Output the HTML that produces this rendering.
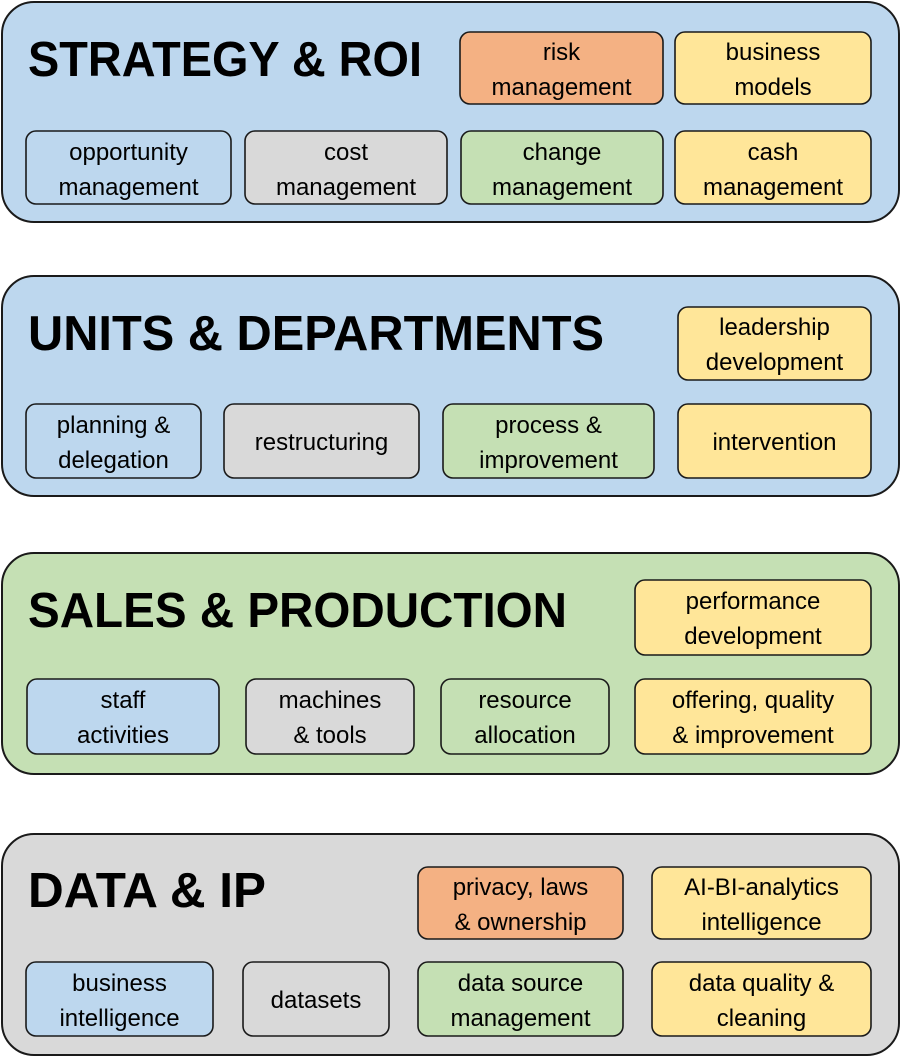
<!DOCTYPE html>
<html><head><meta charset="utf-8"><style>
html,body{margin:0;padding:0;background:#fff;}
svg{display:block;}
.t{font-family:"Liberation Sans",sans-serif;font-weight:bold;font-size:49px;fill:#000;}
.b{font-family:"Liberation Sans",sans-serif;font-size:24px;fill:#000;text-anchor:middle;}
.p{stroke:#1a1a1a;stroke-width:2;}
.x{stroke:#1a1a1a;stroke-width:1.6;}
</style></head><body>
<svg width="902" height="1057" viewBox="0 0 902 1057" xmlns="http://www.w3.org/2000/svg">
<rect class="p" x="2" y="2" width="897" height="220" rx="32" fill="#BDD7EE"/>
<text class="t" x="28" y="76" textLength="394" lengthAdjust="spacingAndGlyphs">STRATEGY &amp; ROI</text>
<rect class="x" x="460" y="32" width="203" height="72" rx="10" fill="#F4B183"/>
<text class="b" x="561.5" y="60">risk</text><text class="b" x="561.5" y="95">management</text>
<rect class="x" x="675" y="32" width="196" height="72" rx="10" fill="#FFE699"/>
<text class="b" x="773" y="60">business</text><text class="b" x="773" y="95">models</text>
<rect class="x" x="26" y="131" width="205" height="73" rx="10" fill="#BDD7EE"/>
<text class="b" x="128.5" y="160">opportunity</text><text class="b" x="128.5" y="195">management</text>
<rect class="x" x="245" y="131" width="202" height="73" rx="10" fill="#D9D9D9"/>
<text class="b" x="346" y="160">cost</text><text class="b" x="346" y="195">management</text>
<rect class="x" x="461" y="131" width="202" height="73" rx="10" fill="#C5E0B4"/>
<text class="b" x="562" y="160">change</text><text class="b" x="562" y="195">management</text>
<rect class="x" x="675" y="131" width="196" height="73" rx="10" fill="#FFE699"/>
<text class="b" x="773" y="160">cash</text><text class="b" x="773" y="195">management</text>

<rect class="p" x="2" y="276" width="897" height="220" rx="32" fill="#BDD7EE"/>
<text class="t" x="28" y="350" textLength="576" lengthAdjust="spacingAndGlyphs">UNITS &amp; DEPARTMENTS</text>
<rect class="x" x="678" y="307" width="193" height="73" rx="10" fill="#FFE699"/>
<text class="b" x="774.5" y="335">leadership</text><text class="b" x="774.5" y="370">development</text>
<rect class="x" x="26" y="404" width="175" height="74" rx="10" fill="#BDD7EE"/>
<text class="b" x="113.5" y="433">planning &amp;</text><text class="b" x="113.5" y="468">delegation</text>
<rect class="x" x="224" y="404" width="195" height="74" rx="10" fill="#D9D9D9"/>
<text class="b" x="321.5" y="450">restructuring</text>
<rect class="x" x="443" y="404" width="211" height="74" rx="10" fill="#C5E0B4"/>
<text class="b" x="548.5" y="433">process &amp;</text><text class="b" x="548.5" y="468">improvement</text>
<rect class="x" x="678" y="404" width="193" height="74" rx="10" fill="#FFE699"/>
<text class="b" x="774.5" y="450">intervention</text>

<rect class="p" x="2" y="553" width="897" height="221" rx="32" fill="#C5E0B4"/>
<text class="t" x="28" y="627" textLength="539" lengthAdjust="spacingAndGlyphs">SALES &amp; PRODUCTION</text>
<rect class="x" x="635" y="580" width="236" height="75" rx="10" fill="#FFE699"/>
<text class="b" x="753" y="609">performance</text><text class="b" x="753" y="644">development</text>
<rect class="x" x="27" y="679" width="192" height="75" rx="10" fill="#BDD7EE"/>
<text class="b" x="123" y="708">staff</text><text class="b" x="123" y="743">activities</text>
<rect class="x" x="246" y="679" width="168" height="75" rx="10" fill="#D9D9D9"/>
<text class="b" x="330" y="708">machines</text><text class="b" x="330" y="743">&amp; tools</text>
<rect class="x" x="441" y="679" width="168" height="75" rx="10" fill="#C5E0B4"/>
<text class="b" x="525" y="708">resource</text><text class="b" x="525" y="743">allocation</text>
<rect class="x" x="635" y="679" width="236" height="75" rx="10" fill="#FFE699"/>
<text class="b" x="753" y="708">offering, quality</text><text class="b" x="753" y="743">&amp; improvement</text>

<rect class="p" x="2" y="834" width="897" height="221" rx="32" fill="#D9D9D9"/>
<text class="t" x="28" y="907" textLength="238" lengthAdjust="spacingAndGlyphs">DATA &amp; IP</text>
<rect class="x" x="418" y="867" width="205" height="72" rx="10" fill="#F4B183"/>
<text class="b" x="520.5" y="895">privacy, laws</text><text class="b" x="520.5" y="930">&amp; ownership</text>
<rect class="x" x="652" y="867" width="219" height="72" rx="10" fill="#FFE699"/>
<text class="b" x="761.5" y="895">AI-BI-analytics</text><text class="b" x="761.5" y="930">intelligence</text>
<rect class="x" x="26" y="962" width="187" height="74" rx="10" fill="#BDD7EE"/>
<text class="b" x="119.5" y="991">business</text><text class="b" x="119.5" y="1026">intelligence</text>
<rect class="x" x="243" y="962" width="146" height="74" rx="10" fill="#D9D9D9"/>
<text class="b" x="316" y="1008">datasets</text>
<rect class="x" x="418" y="962" width="205" height="74" rx="10" fill="#C5E0B4"/>
<text class="b" x="520.5" y="991">data source</text><text class="b" x="520.5" y="1026">management</text>
<rect class="x" x="652" y="962" width="219" height="74" rx="10" fill="#FFE699"/>
<text class="b" x="761.5" y="991">data quality &amp;</text><text class="b" x="761.5" y="1026">cleaning</text>
</svg>
</body></html>
